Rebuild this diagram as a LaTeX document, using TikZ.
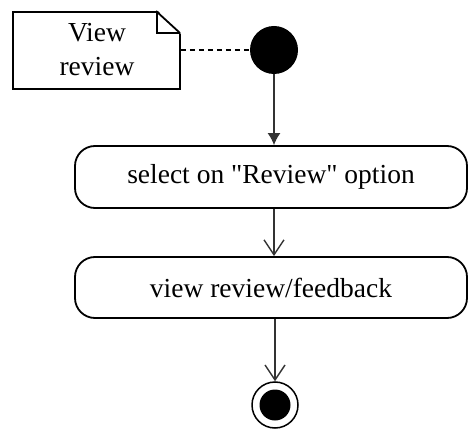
\documentclass[tikz,border=0pt]{standalone}
\usepackage{fontspec}
\setmainfont{Liberation Serif}[Ligatures=TeXOff]
\usetikzlibrary{arrows.meta}
\begin{document}
\begin{tikzpicture}[x=1pt,y=-1pt,
  lbl/.style={font=\fontsize{27.5}{34}\selectfont, inner sep=0pt},
  action/.style={draw, line width=1.8pt, rounded corners=20pt, minimum width=392pt, inner sep=0pt},
  flow/.style={line width=1.4pt, draw=black!80},
  openarrow/.style={flow, -{Straight Barb[length=15pt,width=20pt,line width=1.4pt]}},
  filledarrow/.style={flow, -{Latex[length=12pt,width=13pt]}}]
\useasboundingbox (0,0) rectangle (468,430);
% note
\node[draw, line width=1.8pt, minimum width=167pt, minimum height=77pt, inner sep=0pt] (note) at (96.5,50.5) {};
\fill[white] (157,10) -- (182,10) -- (182,35) -- cycle;
\draw[line width=1.8pt, line join=miter] (note.north west) ++(144,0) -- (180,33);
\draw[line width=1.5pt] (157,12) -- (157,33) -- (180,33);
\node[lbl, align=center] (notetext) at (97,50) {View\\review};
% initial
\node[circle, fill=black, minimum size=48pt, inner sep=0pt] (init) at (274,50) {};
% actions
\node[action, minimum height=62pt, lbl] (a1) at (271,177) {select on "Review" option};
\node[action, minimum height=61pt, lbl] (a2) at (271,287.5) {view review/feedback};
% final
\node[circle, draw, line width=1.5pt, minimum size=46pt, inner sep=0pt] (final) at (275,405) {};
\node[circle, fill=black, minimum size=31pt, inner sep=0pt] (finalin) at (275,405) {};
% connectors
\draw[line width=1.4pt, dash pattern=on 5pt off 4pt] (note.east |- init) -- (init.west);
\draw[filledarrow] (init.south) -- (init.south |- a1.north);
\draw[openarrow] (a1.south -| 274,0) -- (a2.north -| 274,0);
\draw[openarrow] (a2.south -| final) -- (final.north);
\end{tikzpicture}
\end{document}
